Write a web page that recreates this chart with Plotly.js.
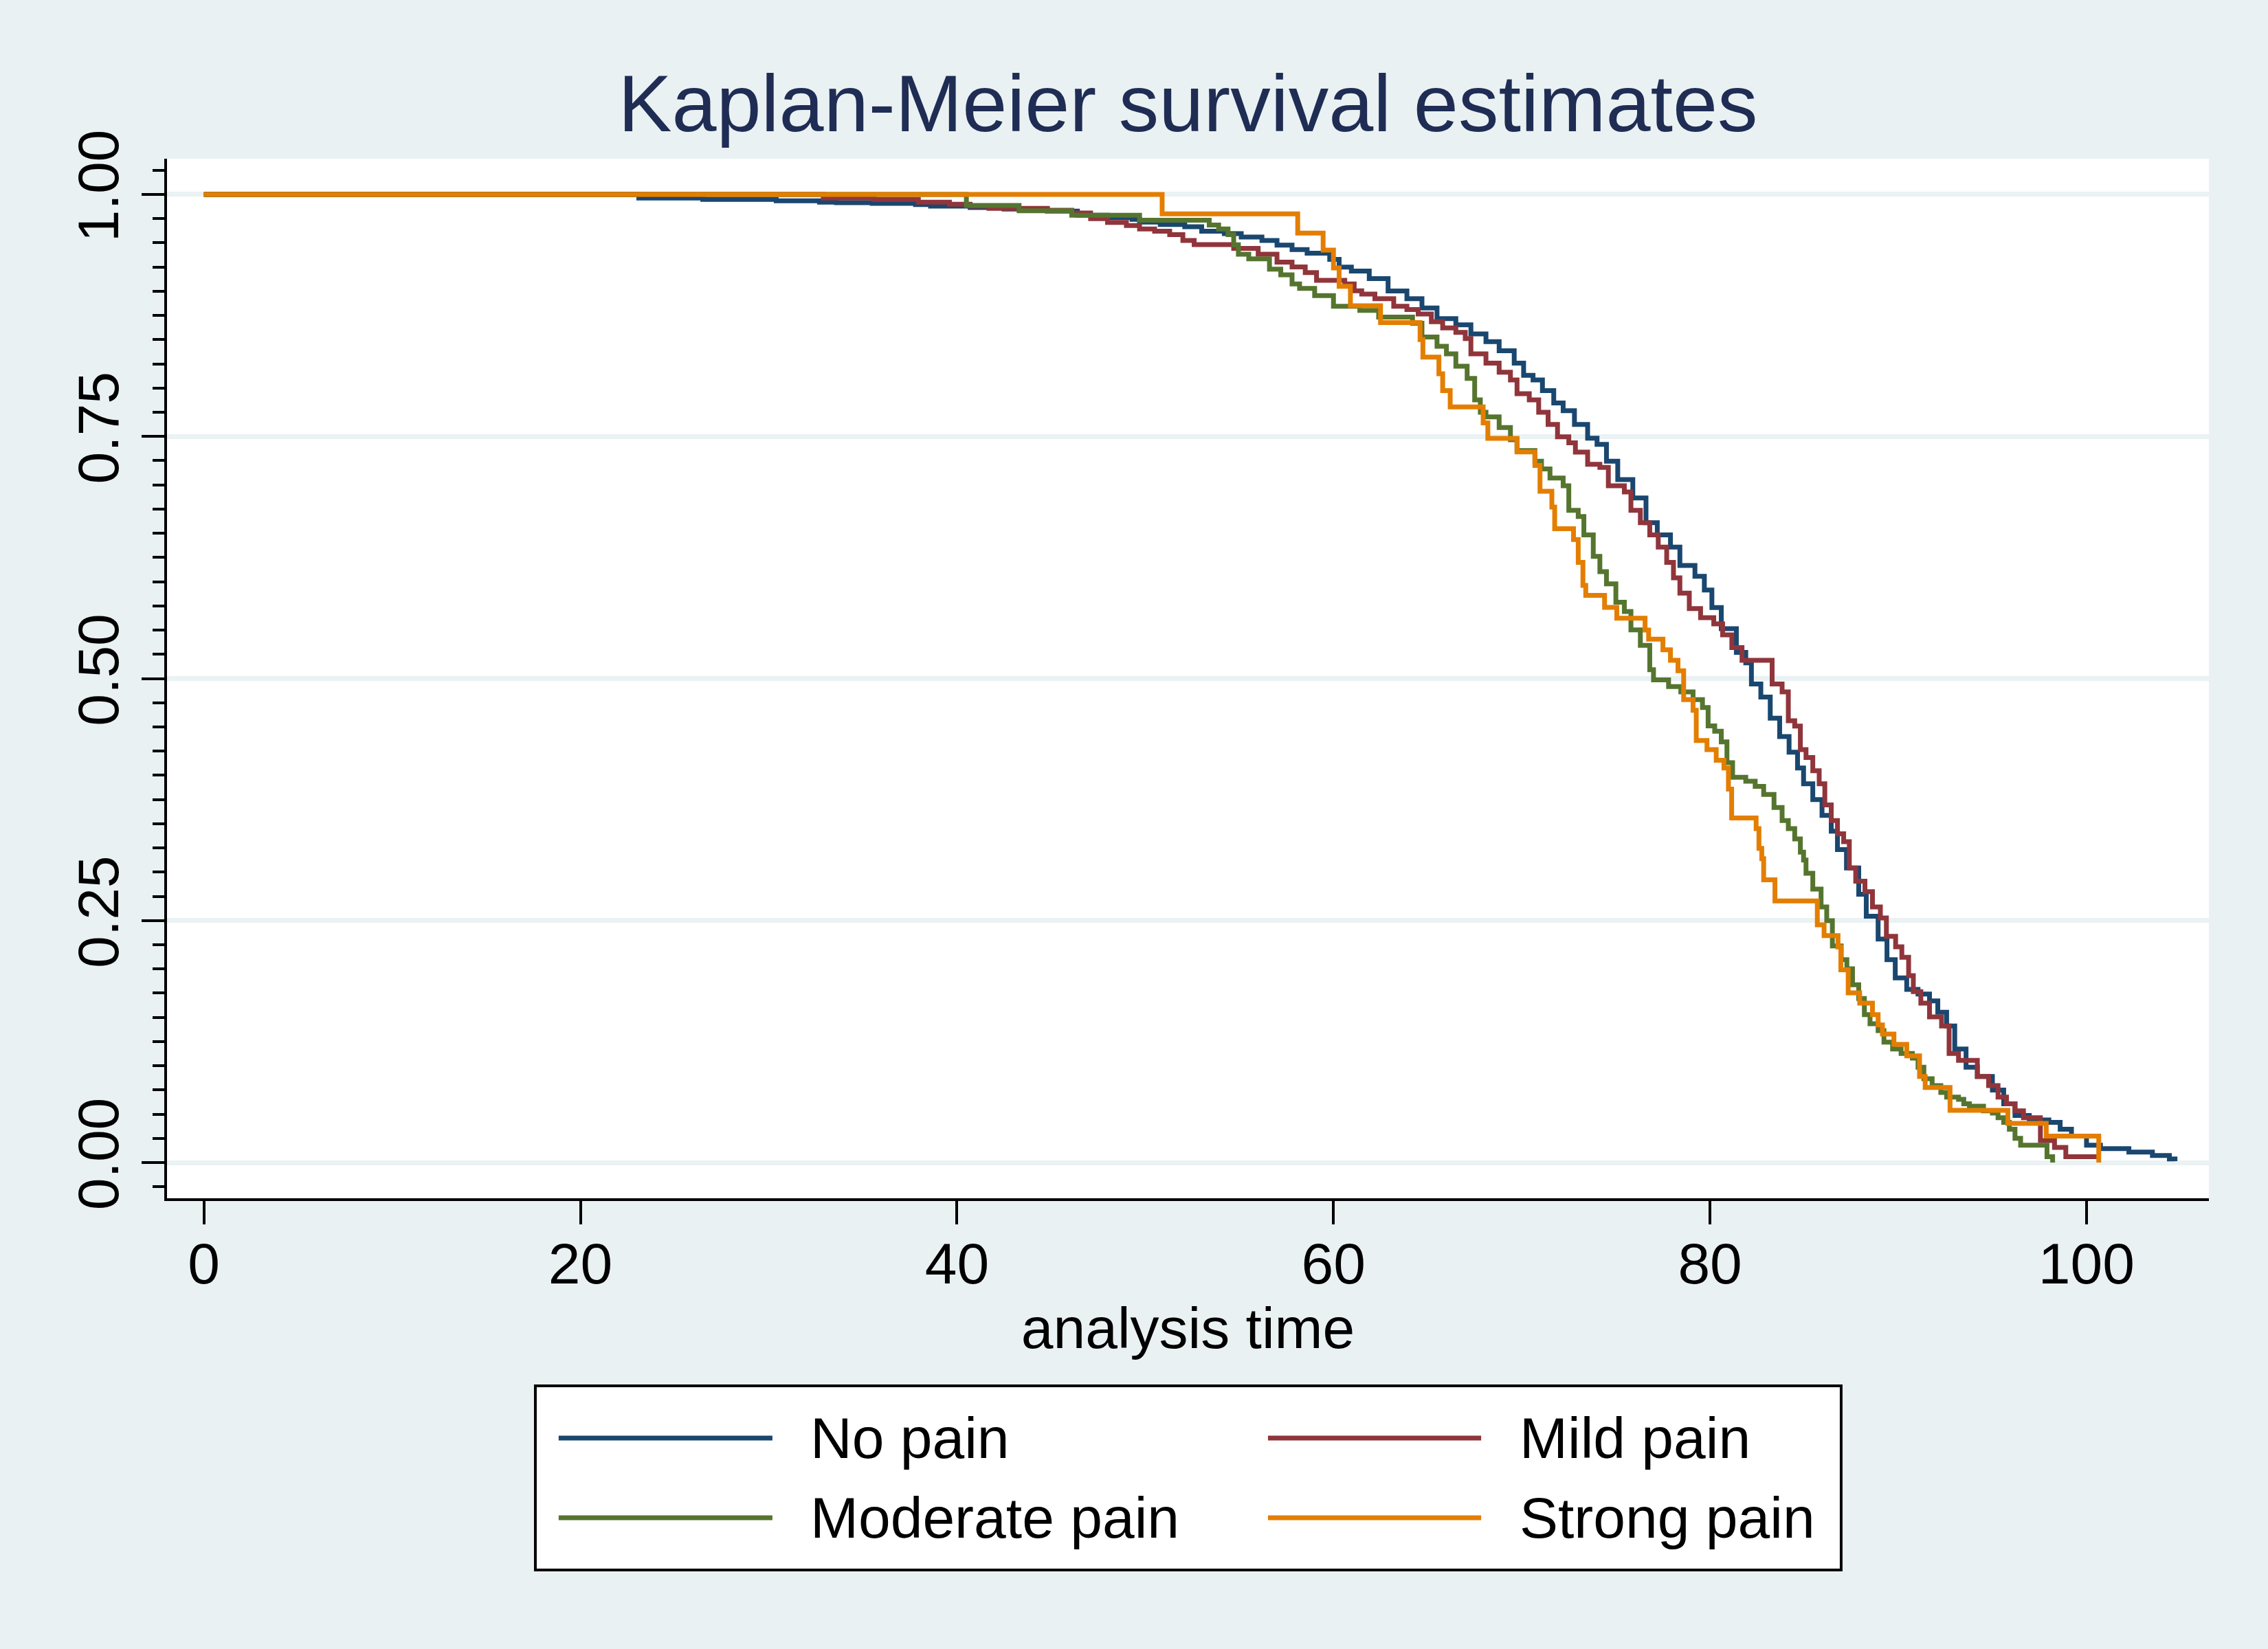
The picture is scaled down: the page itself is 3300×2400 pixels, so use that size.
<!DOCTYPE html>
<html>
<head>
<meta charset="utf-8">
<script src="https://cdn.plot.ly/plotly-3.0.1.min.js"></script>
<style>
  html, body { margin: 0; padding: 0; background: #eaf1f3; }
  #chart { width: 3300px; height: 2400px; }
</style>
</head>
<body>
<div id="chart"></div>
<script>
/* Kaplan-Meier survival by pain group, Stata s2color look.
 */

// ---- data -------------------------------------------------------------
const noPainTime = [0, 23.1, 26.5, 30.4, 32.7, 33.6, 35.5, 37.8, 38.6, 40.7,
  42.5, 44.8, 46.4, 48.0, 49.3, 49.7, 50.8, 52.1, 53.0, 54.2,
  55.1, 56.2, 57.0, 57.8, 58.6, 59.8, 60.3, 60.95, 61.9, 62.9,
  63.9, 64.7, 65.5, 66.5, 67.3, 68.1, 68.8, 69.6, 70.1, 70.6,
  71.1, 71.7, 72.2, 72.8, 73.5, 74.0, 74.5, 75.1, 75.9, 76.6,
  77.2, 77.9, 78.4, 79.2, 79.7, 80.1, 80.6, 81.4, 81.9, 82.2,
  82.7, 83.2, 83.7, 84.2, 84.65, 84.97, 85.46, 85.95, 86.44, 86.77,
  87.25, 87.9, 88.3, 88.93, 89.4, 89.84, 90.45, 91.05, 91.66, 92.1,
  92.57, 93.0, 93.6, 94.2, 95.0, 95.6, 96.2, 96.96, 98.0, 98.6,
  99.2, 100.0, 100.74, 102.25, 103.5, 104.4, 104.7];
const noPainSurv = [1, 0.9962, 0.9948, 0.9934, 0.992, 0.9915, 0.9908, 0.9896, 0.988, 0.9865,
  0.985, 0.9827, 0.9785, 0.976, 0.9742, 0.9714, 0.969, 0.9666, 0.962, 0.9595,
  0.956, 0.9524, 0.9477, 0.943, 0.9394, 0.933, 0.925, 0.9208, 0.913, 0.9002,
  0.8923, 0.8828, 0.8717, 0.8654, 0.8559, 0.848, 0.8385, 0.8258, 0.8131, 0.8084,
  0.7973, 0.7846, 0.7767, 0.7624, 0.7482, 0.7418, 0.7244, 0.7054, 0.6864, 0.661,
  0.6484, 0.6357, 0.6167, 0.6056, 0.5914, 0.5732, 0.5514, 0.527, 0.5161, 0.4944,
  0.4808, 0.459, 0.44, 0.4238, 0.4075, 0.3912, 0.3749, 0.3586, 0.3423, 0.3233,
  0.3043, 0.2771, 0.2545, 0.2309, 0.2096, 0.1907, 0.1789, 0.1741, 0.167, 0.1552,
  0.141, 0.1173, 0.0984, 0.0889, 0.0748, 0.0606, 0.0487, 0.044, 0.0416, 0.0345,
  0.0274, 0.018, 0.0144, 0.0109, 0.0073, 0.0038, 0.0014];

const mildPainTime = [0, 32.9, 35.6, 37.95, 39.6, 40.7, 41.7, 44.8, 46.1, 47.1,
  48.0, 49.0, 49.7, 50.5, 51.3, 52.0, 52.6, 54.7, 56.0, 57.0,
  57.8, 58.5, 59.1, 60.6, 61.1, 61.5, 62.2, 63.2, 63.9, 64.5,
  65.2, 65.8, 66.5, 67.0, 67.3, 68.1, 68.8, 69.4, 69.75, 70.4,
  70.9, 71.4, 71.9, 72.5, 72.85, 73.5, 74.15, 74.6, 75.45, 75.8,
  76.3, 76.8, 77.25, 77.7, 78.06, 78.4, 78.9, 79.5, 80.2, 80.67,
  81.16, 81.7, 83.3, 83.83, 84.16, 84.5, 84.8, 85.1, 85.46, 85.8,
  86.1, 86.44, 86.77, 87.1, 87.4, 87.74, 88.23, 88.63, 89.05, 89.37,
  89.86, 90.19, 90.55, 90.8, 91.2, 91.66, 92.3, 92.7, 93.2, 94.2,
  94.8, 95.3, 95.75, 96.2, 96.65, 97.55, 98.3, 98.9, 100.6];
const mildPainSurv = [1, 0.9962, 0.9948, 0.992, 0.9898, 0.988, 0.9856, 0.9837, 0.9808, 0.975,
  0.971, 0.9678, 0.9643, 0.962, 0.9584, 0.9524, 0.9482, 0.9442, 0.9382, 0.93,
  0.9252, 0.9193, 0.9113, 0.9075, 0.9004, 0.897, 0.8923, 0.8844, 0.8812, 0.8765,
  0.8685, 0.8622, 0.8575, 0.8511, 0.8353, 0.8258, 0.8163, 0.8084, 0.7941, 0.7878,
  0.7751, 0.7624, 0.7497, 0.7434, 0.7339, 0.7212, 0.718, 0.699, 0.6927, 0.6737,
  0.661, 0.6484, 0.6357, 0.6199, 0.604, 0.5882, 0.5723, 0.5628, 0.5565, 0.545,
  0.532, 0.5188, 0.4944, 0.4862, 0.4564, 0.4509, 0.4265, 0.4183, 0.4048, 0.3912,
  0.3694, 0.3532, 0.3396, 0.3314, 0.3043, 0.2907, 0.2798, 0.264, 0.2527, 0.2337,
  0.2228, 0.212, 0.1931, 0.1765, 0.1647, 0.1505, 0.141, 0.1126, 0.1055, 0.0889,
  0.0795, 0.0676, 0.0606, 0.0535, 0.0464, 0.0227, 0.0156, 0.0061, 0.0061];

const moderatePainTime = [0, 40.5, 43.3, 46.1, 49.7, 53.4, 53.9, 54.4, 54.7, 54.95,
  55.5, 56.6, 57.2, 57.8, 58.2, 59.0, 60.0, 61.4, 62.4, 64.2,
  64.7, 65.5, 66.0, 66.5, 67.1, 67.5, 67.8, 68.1, 68.8, 69.4,
  69.75, 70.7, 71.05, 71.5, 72.2, 72.5, 73.0, 73.3, 73.8, 74.15,
  74.5, 75.0, 75.45, 75.8, 76.3, 76.8, 77.0, 77.8, 78.45, 79.1,
  79.6, 79.9, 80.25, 80.6, 80.9, 81.2, 81.9, 82.4, 82.85, 83.4,
  83.83, 84.16, 84.5, 84.8, 84.97, 85.1, 85.46, 85.9, 86.2, 86.5,
  86.97, 87.27, 87.57, 87.9, 88.2, 88.5, 88.93, 89.24, 89.7, 90.15,
  90.75, 91.05, 91.36, 91.8, 92.26, 92.57, 93.2, 93.48, 93.78, 94.53,
  95.0, 95.3, 95.6, 95.9, 96.2, 96.5, 97.9, 98.2];
const moderatePainSurv = [1, 0.9886, 0.9832, 0.9785, 0.9733, 0.9685, 0.9643, 0.9584, 0.948, 0.9382,
  0.9335, 0.9229, 0.917, 0.9075, 0.903, 0.8955, 0.8844, 0.8803, 0.8733, 0.867,
  0.8527, 0.8432, 0.8353, 0.8226, 0.81, 0.7878, 0.7751, 0.7703, 0.7593, 0.7466,
  0.7355, 0.7244, 0.7165, 0.707, 0.6991, 0.6737, 0.6674, 0.6484, 0.6262, 0.6104,
  0.5977, 0.5787, 0.5692, 0.5502, 0.5343, 0.509, 0.4985, 0.4917, 0.4862, 0.4781,
  0.47, 0.451, 0.4455, 0.4346, 0.413, 0.398, 0.3939, 0.3885, 0.3803, 0.3667,
  0.3532, 0.345, 0.3342, 0.3206, 0.3124, 0.2988, 0.2825, 0.264, 0.2498, 0.2238,
  0.2096, 0.2001, 0.1836, 0.1694, 0.1528, 0.1434, 0.1363, 0.1244, 0.1173, 0.1126,
  0.1079, 0.0984, 0.0866, 0.0795, 0.0724, 0.0676, 0.0653, 0.0606, 0.0582, 0.0535,
  0.0511, 0.0464, 0.0416, 0.0345, 0.0251, 0.018, 0.0061, 0];

const strongPainTime = [0, 50.9, 58.1, 59.45, 60.0, 60.3, 60.9, 62.5, 64.6, 64.75,
  65.6, 65.8, 66.2, 67.95, 68.2, 69.75, 70.7, 70.97, 71.6, 71.75,
  72.75, 73.0, 73.25, 73.4, 74.4, 75.05, 76.55, 76.74, 77.5, 77.9,
  78.3, 78.6, 79.1, 79.27, 79.84, 80.33, 80.74, 80.98, 81.15, 82.45,
  82.6, 82.75, 82.85, 83.45, 85.7, 86.06, 86.8, 86.95, 87.34, 87.95,
  88.63, 88.93, 89.16, 89.77, 90.45, 91.13, 91.43, 92.75, 95.82, 97.86,
  100.65];
const strongPainSurv = [1, 0.98, 0.96, 0.9425, 0.924, 0.905, 0.885, 0.8676, 0.85, 0.832,
  0.8147, 0.7973, 0.7805, 0.764, 0.748, 0.734, 0.72, 0.6934, 0.677, 0.6547,
  0.6436, 0.6199, 0.5961, 0.5858, 0.5735, 0.5623, 0.55, 0.5406, 0.5297, 0.5188,
  0.508, 0.4781, 0.4672, 0.436, 0.4265, 0.4156, 0.4075, 0.3857, 0.3559, 0.345,
  0.3246, 0.3138, 0.2921, 0.2703, 0.2455, 0.2344, 0.2226, 0.199, 0.1753, 0.1647,
  0.1528, 0.1422, 0.1327, 0.122, 0.1102, 0.0889, 0.0776, 0.0539, 0.0405, 0.0274,
  0];

const groupNames = ["No pain", "Mild pain", "Moderate pain", "Strong pain"];
const xTicks = [0, 20, 40, 60, 80, 100];
const yTicks = [0, 0.25, 0.5, 0.75, 1];

// ---- style --------------------------------------------------------------
// Stata s2color: navy, maroon, forest_green, dkorange.
const COLORS = ["#1a476f", "#90353b", "#55752f", "#e37e00"];
const BG = "#eaf1f3";
const GRID = "#eaf2f3";
const FONT = "Liberation Sans, Arial, Helvetica, sans-serif";
const TXT = 84;

const series = [
  [noPainTime, noPainSurv],
  [mildPainTime, mildPainSurv],
  [moderatePainTime, moderatePainSurv],
  [strongPainTime, strongPainSurv],
];

// Drawn in Stata's order, so the last group ends up on top.
const traces = series.map(function (pair, i) {
  return {
    type: "scatter",
    mode: "lines",
    name: groupNames[i],
    x: pair[0],
    y: pair[1],
    line: { color: COLORS[i], width: 7, shape: "hv" },
    showlegend: false,
    hoverinfo: "skip",
  };
});

// Stata's legend has long line keys, which Plotly's own legend cannot draw,
// so the box is built from shapes and annotations in paper space.
const LEG_BOX = { x0: 0.1804, x1: 0.8199, y0: -0.3576, y1: -0.1804 };
const LEG_COLS = [{ k0: 0.1918, k1: 0.2965, tx: 0.3144 }, { k0: 0.5392, k1: 0.6436, tx: 0.6617 }];
const LEG_ROWS = [-0.2307, -0.3073];

const shapes = [{
  type: "rect", xref: "paper", yref: "paper",
  x0: LEG_BOX.x0, x1: LEG_BOX.x1, y0: LEG_BOX.y0, y1: LEG_BOX.y1,
  line: { color: "#000000", width: 4 }, fillcolor: "#ffffff",
}];
const annotations = [];
groupNames.forEach(function (name, i) {
  const col = LEG_COLS[i % 2];
  const row = LEG_ROWS[Math.floor(i / 2)];
  shapes.push({
    type: "line", xref: "paper", yref: "paper",
    x0: col.k0, x1: col.k1, y0: row, y1: row,
    line: { color: COLORS[i], width: 7 },
  });
  annotations.push({
    xref: "paper", yref: "paper", x: col.tx, y: row,
    xanchor: "left", yanchor: "middle", showarrow: false,
    text: name, font: { family: FONT, size: TXT, color: "#000000" },
  });
});

const layout = {
  width: 3300,
  height: 2400,
  paper_bgcolor: BG,
  plot_bgcolor: "#ffffff",
  margin: { l: 243, r: 86, t: 231, b: 656 },
  font: { family: FONT, size: TXT, color: "#000000" },
  showlegend: false,
  title: {
    text: "Kaplan-Meier survival estimates",
    font: { family: FONT, size: 117, color: "#1f2d54" },
    xref: "paper", x: 0.5, xanchor: "center",
    yref: "container", y: 0.9375, yanchor: "middle",
  },
  xaxis: {
    range: [-1.96, 106.5],
    tickmode: "array",
    tickvals: xTicks,
    ticks: "outside", ticklen: 34, tickwidth: 4, tickcolor: "#000000",
    ticklabelstandoff: -15,
    showline: true, linewidth: 4, linecolor: "#000000",
    showgrid: false, zeroline: false,
    tickfont: { family: FONT, size: TXT, color: "#000000" },
    title: { text: "analysis time", font: { family: FONT, size: TXT, color: "#000000" }, standoff: 0 },
  },
  yaxis: {
    range: [-0.0369, 1.0369],
    tickmode: "array",
    tickvals: yTicks,
    tickformat: ".2f",
    tickangle: -90,
    ticks: "outside", ticklen: 33, tickwidth: 4, tickcolor: "#000000",
    minor: { tick0: 0, dtick: 0.025, ticks: "outside", ticklen: 17, tickwidth: 4, tickcolor: "#000000", showgrid: false },
    showline: true, linewidth: 4, linecolor: "#000000",
    showgrid: true, gridcolor: GRID, gridwidth: 7,
    zeroline: false,
    tickfont: { family: FONT, size: TXT, color: "#000000" },
  },
  shapes: shapes,
  annotations: annotations,
};

Plotly.newPlot("chart", traces, layout, { displayModeBar: false, staticPlot: true });
</script>
</body>
</html>
